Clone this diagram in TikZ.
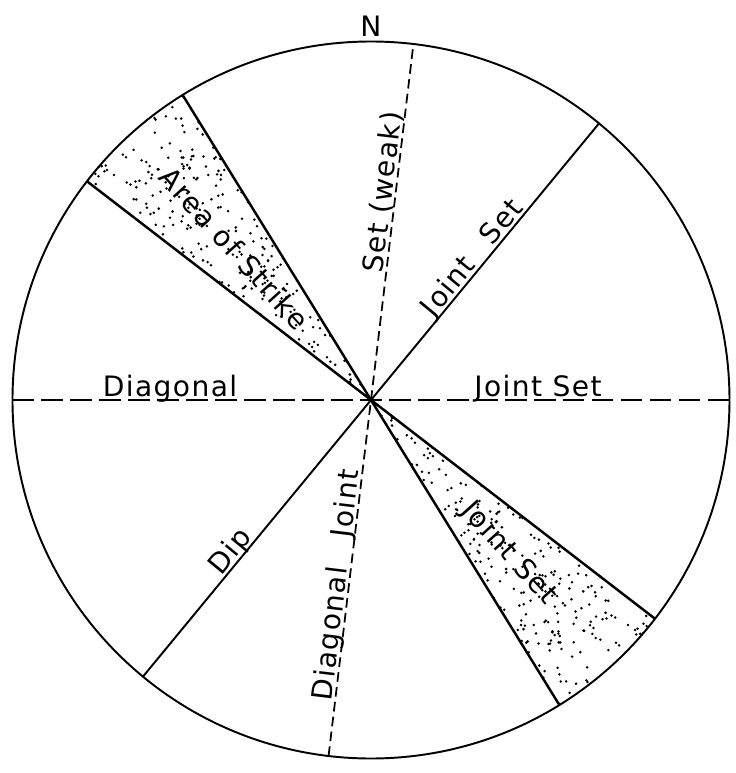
\documentclass[tikz,border=0pt]{standalone}
\usepackage{fontspec}
\setmainfont{DejaVu Sans}[LetterSpace=5]
\usetikzlibrary{calc}

\begin{document}
\begin{tikzpicture}[
  rim/.style={line width=1.1pt},
  edge/.style={line width=1.4pt},
  strike/.style={line width=1.1pt},
  longdash/.style={line width=1.1pt,dash pattern=on 12pt off 4.5pt},
  shortdash/.style={line width=1pt,dash pattern=on 5.5pt off 3pt},
  lbl/.style={font=\fontsize{16}{18}\selectfont,inner sep=0pt}
]
\def\R{7.17}
\path[use as bounding box,fill=white] (-7.42,-7.46) rectangle (7.30,8.0);

\coordinate (O) at (0,0);
% ends of the lines on the rim
\coordinate (w) at (180:\R);
\coordinate (e) at (0:\R);
\coordinate (n) at (83.2:\R);
\coordinate (s) at (263.2:\R);
\coordinate (ne) at (50.5:\R);
\coordinate (sw) at (230.5:\R);

% stippled wedges
\foreach \a/\b in {121.7/142.4,301.7/322.4}{
  \begin{scope}
    \clip (O) -- (\a:\R) arc[start angle=\a,end angle=\b,radius=\R] -- cycle;
    \pgfmathsetseed{11}
    \foreach \i in {1,...,230}{
      \pgfmathsetmacro\ang{\a+(\b-\a)*rnd}
      \pgfmathsetmacro\rad{\R*sqrt(rnd)}
      \fill (\ang:\rad) circle[radius=0.028];
    }
  \end{scope}
  \draw[edge] (O) -- (\a:\R);
  \draw[edge] (O) -- (\b:\R);
}

\draw[rim] (O) circle[radius=\R];
\draw[longdash] (w) -- (e);
\draw[shortdash] (s) -- (n);
\draw[strike] (sw) -- (ne);

% labels
\node[lbl,anchor=south] (nlab) at (90:\R+0.1) {N};
\node[lbl,anchor=base,yshift=2pt] (diag) at (-4.02,0) {Diagonal};
\node[lbl,anchor=base,yshift=2pt] (jsh) at (3.34,0) {Joint Set};
\node[lbl,anchor=base,rotate=83.2,yshift=2pt] (weak) at (83.2:4.16) {Set (weak)};
\node[lbl,anchor=base,rotate=83.2,yshift=2pt] (dj) at (263.2:3.76) {Diagonal\hspace{0.6cm}Joint};
\node[lbl,anchor=base,rotate=50.5,yshift=2pt] (jsu) at (50.5:3.48) {Joint\hspace{0.5cm}Set};
\node[lbl,anchor=base,rotate=50.5,yshift=2pt] (dip) at (230.5:4.12) {Dip};
\node[lbl,rotate=-48] (aos) at (132:4.08) {Area of Strike};
\node[lbl,rotate=-48] (jsl) at (-48:4.12) {Joint Set};
\end{tikzpicture}
\end{document}
